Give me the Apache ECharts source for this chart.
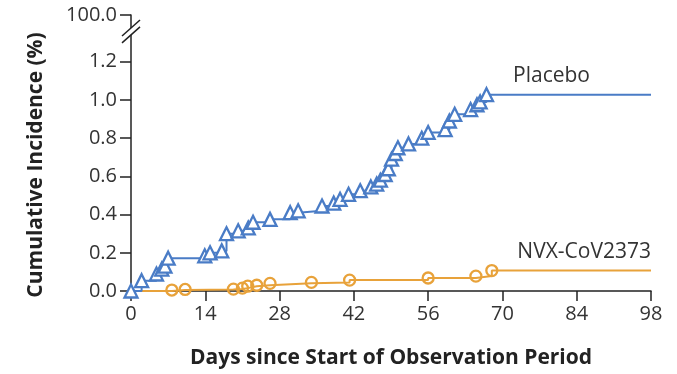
<!DOCTYPE html>
<html>
<head>
<meta charset="utf-8">
<script src="https://cdn.jsdelivr.net/npm/echarts@6/dist/echarts.min.js"></script>
<style>
html,body{margin:0;padding:0;background:#fff;}
#chart{width:677px;height:374px;}
</style>
</head>
<body>
<div id="chart"></div>
<script>
// ---- data ----
const xTicks = [0, 14, 28, 42, 56, 70, 84, 98];
const yTicks = [0, 0.2, 0.4, 0.6, 0.8, 1.0, 1.2];
const yBreakTop = 1.445;          // axis position standing for 100.0
const yBreakLabel = '100.0';
const endDay = 98;

const placeboName = 'Placebo';
const placeboDays = [0, 2, 4.8, 5.8, 6.4, 7.0, 13.9, 14.9, 17.1, 18.0, 20.2, 22.1, 23.0, 26.2, 30.0, 31.5, 36.0, 38.2, 39.4, 41.0, 43.2, 45.2, 46.3, 47.0, 47.9, 48.5, 49.1, 49.8, 50.3, 52.3, 54.8, 56.0, 59.2, 60.0, 61.0, 64.0, 65.2, 65.8, 67.0];
const placeboValues = [0, 0.054, 0.089, 0.115, 0.13, 0.172, 0.184, 0.20, 0.21, 0.30, 0.315, 0.33, 0.36, 0.375, 0.41, 0.42, 0.445, 0.46, 0.48, 0.506, 0.525, 0.545, 0.56, 0.58, 0.61, 0.64, 0.69, 0.72, 0.75, 0.77, 0.80, 0.83, 0.845, 0.89, 0.925, 0.95, 0.975, 0.99, 1.028];

const vaccineName = 'NVX-CoV2373';
const vaccineDays = [7.7, 10.2, 19.3, 21.0, 22.0, 23.7, 26.2, 34.0, 41.2, 56.0, 65.0, 68.0];
const vaccineValues = [0.005, 0.008, 0.01, 0.015, 0.025, 0.03, 0.04, 0.045, 0.057, 0.068, 0.078, 0.107];

const xName = 'Days since Start of Observation Period';
const yName = 'Cumulative Incidence (%)';

// ---- build ----
function buildSeriesData(days, vals, withStart) {
  const d = [];
  if (withStart) d.push({ value: [0, 0], symbol: 'none' });
  days.forEach((x, i) => d.push([x, vals[i]]));
  d.push({ value: [endDay, vals[vals.length - 1]], symbol: 'none' });
  return d;
}

const FONT = 'Open Sans';
const chart = echarts.init(document.getElementById('chart'), null, { renderer: 'canvas' });
const blue = '#4a7cc6';
const orange = '#e8a23a';
const axisColor = '#222';

const option = {
  animation: false,
  grid: { left: 131, right: 26, top: 15, bottom: 82, containLabel: false },
  xAxis: {
    type: 'value', min: 0, max: 98, interval: 14,
    name: xName, nameLocation: 'middle', nameGap: 57,
    nameTextStyle: { fontFamily: FONT, fontSize: 21, fontWeight: 'bold', color: '#222' },
    axisLine: { lineStyle: { color: axisColor, width: 1.5 } },
    axisTick: { show: true, length: 10, lineStyle: { color: axisColor, width: 1.5 } },
    axisLabel: { fontFamily: FONT, fontSize: 20, color: '#333', margin: 13 },
    splitLine: { show: false }
  },
  yAxis: {
    type: 'value', min: 0, max: yBreakTop,
    name: yName, nameLocation: 'middle', nameGap: 84, nameRotate: 90,
    nameTextStyle: { fontFamily: FONT, fontSize: 21, fontWeight: 'bold', color: '#222', padding: [0, 24, 0, 0] },
    axisLine: { lineStyle: { color: axisColor, width: 1.5 } },
    axisTick: { show: true, length: 11, customValues: yTicks.concat([yBreakTop]), lineStyle: { color: axisColor, width: 1.5 } },
    axisLabel: {
      fontFamily: FONT, fontSize: 20, color: '#333', margin: 14,
      customValues: yTicks.concat([yBreakTop]),
      formatter: v => (v > 1.3 ? yBreakLabel : v.toFixed(1))
    },
    splitLine: { show: false }
  },
  series: [
    {
      name: placeboName, type: 'line', step: 'end',
      data: buildSeriesData(placeboDays, placeboValues, false),
      symbol: 'triangle', symbolSize: 13,
      lineStyle: { color: blue, width: 2 },
      itemStyle: { color: '#fff', borderColor: blue, borderWidth: 2.3 },
      showAllSymbol: true,
      endLabel: { show: true, formatter: placeboName, align: 'right', offset: [-69, -19],
        fontFamily: FONT, fontSize: 21, color: '#333' },
      z: 3
    },
    {
      name: vaccineName, type: 'line', step: 'end',
      data: buildSeriesData(vaccineDays, vaccineValues, true),
      symbol: 'circle', symbolSize: 11,
      lineStyle: { color: orange, width: 2 },
      itemStyle: { color: 'rgba(255,255,255,0)', borderColor: orange, borderWidth: 2.3 },
      showAllSymbol: true,
      endLabel: { show: true, formatter: vaccineName, align: 'right', offset: [-8, -19],
        fontFamily: FONT, fontSize: 21, color: '#333' },
      z: 2
    }
  ]
};
chart.setOption(option);

// axis break marks
const pa = chart.convertToPixel({ gridIndex: 0 }, [0, 1.377]);
const pb = chart.convertToPixel({ gridIndex: 0 }, [0, 1.341]);
const ax = pa[0];
chart.setOption({
  graphic: [
    { type: 'rect', shape: { x: ax - 3, y: pa[1], width: 6, height: pb[1] - pa[1] }, style: { fill: '#fff' }, z: 10 },
    { type: 'line', shape: { x1: ax - 9, y1: pa[1] + 8, x2: ax + 9, y2: pa[1] - 8 }, style: { stroke: axisColor, lineWidth: 1.5 }, z: 11 },
    { type: 'line', shape: { x1: ax - 9, y1: pb[1] + 8, x2: ax + 9, y2: pb[1] - 8 }, style: { stroke: axisColor, lineWidth: 1.5 }, z: 11 }
  ]
});
</script>
</body>
</html>
